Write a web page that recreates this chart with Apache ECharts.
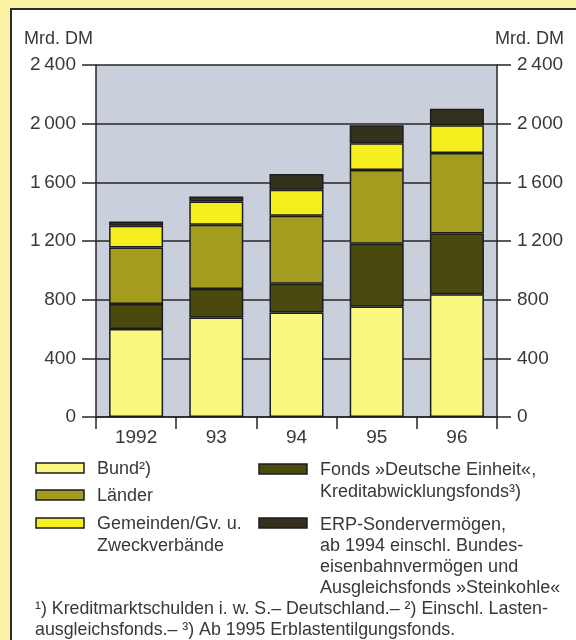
<!DOCTYPE html>
<html>
<head>
<meta charset="utf-8">
<script src="https://cdn.jsdelivr.net/npm/echarts@6/dist/echarts.min.js"></script>
<style>
  html, body { margin: 0; padding: 0; }
  #wrap { position: relative; width: 576px; height: 640px; overflow: hidden; background: #fbf3a4; }
  #panel { position: absolute; left: 10px; top: 8px; width: 620px; height: 700px; background: #ffffff; border: 2px solid #2b2b2b; }
  #chart { position: absolute; left: 0; top: 0; width: 576px; height: 640px; }
</style>
</head>
<body>
<div id="wrap">
  <div id="panel"></div>
  <div id="chart"></div>
</div>
<script>
// ---- Data (Mrd. DM) ----
const categories = ['1992', '93', '94', '95', '96'];
const bund      = [600, 678, 712, 753, 837];
const fonds     = [171, 194, 197, 428, 414];
const laender   = [385, 439, 463, 503, 549];
const gemeinden = [148, 159, 177, 182, 189];
const erp       = [29, 34, 108, 123, 113];
const yTicks    = [0, 400, 800, 1200, 1600, 2000, 2400];
const unitLabel = 'Mrd. DM';

const seriesNames = ['Bund', 'Fonds', 'Länder', 'Gemeinden', 'ERP'];
const legendBund      = ['Bund²)'];
const legendLaender   = ['Länder'];
const legendGemeinden = ['Gemeinden/Gv. u.', 'Zweckverbände'];
const legendFonds     = ['Fonds »Deutsche Einheit«,', 'Kreditabwicklungsfonds³)'];
const legendErp       = ['ERP-Sondervermögen,', 'ab 1994 einschl. Bundes-', 'eisenbahnvermögen und', 'Ausgleichsfonds »Steinkohle«'];
const footnotes       = ['¹) Kreditmarktschulden i. w. S.– Deutschland.– ²) Einschl. Lasten-', 'ausgleichsfonds.– ³) Ab 1995 Erblastentilgungsfonds.'];

// ---- Styles ----
const FONT = '"Liberation Sans", Arial, sans-serif';
const TXT = '#383838';
const LINE = '#262626';
const colors = {
  Bund: '#fcf77f',
  Fonds: '#4a4a0e',
  'Länder': '#a39c1e',
  Gemeinden: '#f6ef1f',
  ERP: '#34321f'
};
const dataBySeries = { Bund: bund, Fonds: fonds, 'Länder': laender, Gemeinden: gemeinden, ERP: erp };

const fmt = v => {
  const s = String(v);
  return s.length > 3 ? s.slice(0, s.length - 3) + '\u2009' + s.slice(-3) : s;
};

const chart = echarts.init(document.getElementById('chart'), null, { renderer: 'canvas' });

const series = seriesNames.map(n => ({
  name: n,
  type: 'bar',
  stack: 'total',
  barWidth: 54,
  data: dataBySeries[n],
  itemStyle: { color: colors[n], borderColor: '#1c1c1c', borderWidth: 1.5 },
  emphasis: { disabled: true },
  animation: false
}));

// Legend drawn as graphics (swatch + text lines)
const graphics = [];
function swatch(x, y, color) {
  graphics.push({ type: 'rect', shape: { x: x, y: y, width: 48, height: 10 },
    style: { fill: color, stroke: '#1c1c1c', lineWidth: 1.5 } });
}
function lines(x, y0, arr, dy, size) {
  arr.forEach((t, i) => graphics.push({ type: 'text', x: x, y: y0 + i * dy,
    style: { text: t, fill: TXT, font: size + 'px ' + FONT, verticalAlign: 'middle', align: 'left' } }));
}
swatch(36, 463, colors.Bund);       lines(97, 469, legendBund, 22, 18);
swatch(36, 490, colors['Länder']);  lines(97, 496, legendLaender, 22, 18);
swatch(36, 518, colors.Gemeinden);  lines(97, 524, legendGemeinden, 22, 18);
swatch(259, 464, colors.Fonds);     lines(320, 470, legendFonds, 22, 18);
swatch(259, 518, colors.ERP);       lines(320, 525, legendErp, 21, 18);
lines(35, 609, footnotes, 21, 17.8);
graphics.push({ type: 'text', x: 24, y: 39, style: { text: unitLabel, fill: TXT, font: '18px ' + FONT, verticalAlign: 'middle', align: 'left' } });
graphics.push({ type: 'text', x: 564, y: 39, style: { text: unitLabel, fill: TXT, font: '18px ' + FONT, verticalAlign: 'middle', align: 'right' } });

const yAxisCommon = {
  type: 'value', min: yTicks[0], max: yTicks[yTicks.length - 1], interval: yTicks[1] - yTicks[0],
  axisLine: { show: true, lineStyle: { color: LINE, width: 1.5 } },
  axisTick: { show: true, length: 14, lineStyle: { color: LINE, width: 1.5 } },
  axisLabel: { color: TXT, fontSize: 19, fontFamily: FONT, margin: 20, formatter: fmt }
};

chart.setOption({
  animation: false,
  textStyle: { fontFamily: FONT },
  grid: { left: 96, right: 79, top: 65, bottom: 223, show: true, backgroundColor: '#c9cfdb', borderWidth: 0 },
  xAxis: {
    type: 'category', data: categories, boundaryGap: true,
    axisLine: { show: true, lineStyle: { color: LINE, width: 1.5 } },
    axisTick: { show: true, length: 12, alignWithLabel: false, lineStyle: { color: LINE, width: 1.5 } },
    axisLabel: { color: TXT, fontSize: 19, fontFamily: FONT, margin: 11 }
  },
  yAxis: [
    Object.assign({}, yAxisCommon, { position: 'left', splitLine: { show: true, lineStyle: { color: LINE, width: 1.5 } } }),
    Object.assign({}, yAxisCommon, { position: 'right', splitLine: { show: false } })
  ],
  series: series,
  graphic: graphics
});
</script>
</body>
</html>
